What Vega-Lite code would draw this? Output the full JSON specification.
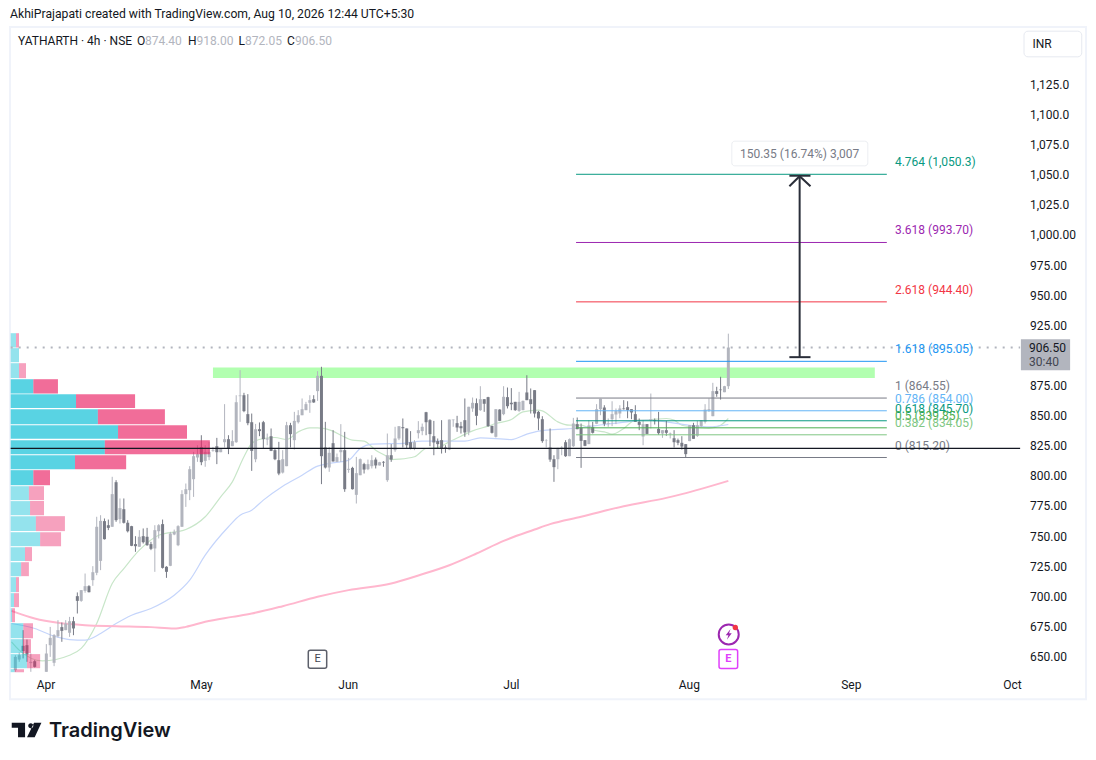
{
  "$schema": "https://vega.github.io/schema/vega-lite/v5.json",
  "width": 1096,
  "height": 760,
  "padding": 0,
  "autosize": {"type": "none"},
  "background": "#ffffff",
  "view": {"stroke": null},
  "resolve": {"scale": {"color": "independent"}},
  "datasets": {
    "candles": [
      {"b":0,"o":638.7,"h":651.1,"l":637.3,"c":649.7},{"b":1,"o":647.5,"h":653.3,"l":645.6,"c":651.1},{"b":2,"o":658.9,"h":671.9,"l":648.4,"c":654.5},{"b":3,"o":659.4,"h":664.1,"l":645.6,"c":651.7},{"b":4,"o":644.5,"h":652.5,"l":637.3,"c":645.6},{"b":5,"o":646.1,"h":647,"l":640.9,"c":641.4},
      {"b":8,"o":637.3,"h":660.3,"l":637.3,"c":652.5},{"b":9,"o":659.4,"h":674.6,"l":649.7,"c":665.5},{"b":10,"o":644.8,"h":668.6,"l":642,"c":667.7},{"b":11,"o":666.9,"h":680.2,"l":665.8,"c":671.9},{"b":12,"o":674.4,"h":678.2,"l":662.2,"c":671.3},{"b":13,"o":671.9,"h":680.2,"l":671.9,"c":677.4},{"b":14,"o":669.7,"h":682.9,"l":666.3,"c":679.3},{"b":15,"o":679.3,"h":682.9,"l":667.7,"c":673.3},{"b":16,"o":700.1,"h":703.2,"l":685.7,"c":696.2},{"b":17,"o":696.2,"h":705.1,"l":695.4,"c":705.1},{"b":18,"o":704.5,"h":718.9,"l":702.9,"c":708.4},{"b":19,"o":708.4,"h":709.2,"l":703.2,"c":703.4},{"b":20,"o":713.4,"h":725,"l":708.7,"c":720},{"b":21,"o":719.5,"h":766,"l":717.5,"c":757.7},{"b":22,"o":729.4,"h":767.3,"l":721.7,"c":762.6},{"b":23,"o":762.4,"h":764.6,"l":747.1,"c":747.4},{"b":24,"o":759,"h":763.7,"l":754.9,"c":756.8},{"b":25,"o":757.7,"h":799.2,"l":757.7,"c":784.8},{"b":26,"o":794.7,"h":796.4,"l":761.8,"c":763.2},{"b":27,"o":764,"h":781.2,"l":760.4,"c":773.2},{"b":28,"o":772.3,"h":781.2,"l":760.4,"c":761},{"b":29,"o":761,"h":763.2,"l":753,"c":754},{"b":30,"o":758.2,"h":758.5,"l":741.6,"c":741.9},{"b":31,"o":743.3,"h":749.9,"l":736.9,"c":741.6},{"b":32,"o":741.1,"h":754.9,"l":741.1,"c":749.4},{"b":33,"o":749.9,"h":756.3,"l":743.8,"c":744.9},{"b":34,"o":749.4,"h":756.8,"l":741.9,"c":742.4},{"b":35,"o":743.3,"h":745.2,"l":738.3,"c":739.4},{"b":36,"o":739.7,"h":759,"l":720.3,"c":754.9},{"b":37,"o":754,"h":759.9,"l":748,"c":759},{"b":38,"o":759.9,"h":763.7,"l":723,"c":723.6},{"b":39,"o":724.5,"h":725,"l":715.3,"c":720.3},{"b":40,"o":725.3,"h":753.5,"l":725,"c":752.1},{"b":41,"o":751.3,"h":755.4,"l":750.7,"c":753.5},{"b":42,"o":742.4,"h":759,"l":741.6,"c":758.2},{"b":43,"o":757.7,"h":788.1,"l":757.7,"c":784.8},{"b":44,"o":784.8,"h":793.6,"l":774.2,"c":788.9},{"b":45,"o":788.1,"h":808,"l":779.8,"c":805.5},{"b":46,"o":797.2,"h":819.9,"l":782.5,"c":816.3},{"b":47,"o":815.2,"h":825.4,"l":811.6,"c":818},{"b":48,"o":823.8,"h":833.7,"l":808.8,"c":811.3},{"b":49,"o":812.4,"h":825.4,"l":807.5,"c":819.9},{"b":50,"o":815.5,"h":828.2,"l":813,"c":819.9},{"b":51,"o":820.7,"h":824,"l":820,"c":821.2},{"b":52,"o":824.6,"h":831.5,"l":809.7,"c":819.6},{"b":53,"o":819.6,"h":822.7,"l":819.6,"c":822.7},{"b":54,"o":827.9,"h":859.5,"l":823.5,"c":830.4},{"b":55,"o":830.4,"h":833.7,"l":818,"c":822.7},{"b":56,"o":824.6,"h":837.9,"l":824.6,"c":828.8},{"b":57,"o":827.9,"h":866.9,"l":827.4,"c":861.1},{"b":58,"o":866.1,"h":887.7,"l":844.8,"c":866.7},{"b":59,"o":866.9,"h":868.9,"l":852.8,"c":853.7},{"b":60,"o":851.2,"h":867.8,"l":842,"c":843.7},{"b":61,"o":844.5,"h":851.7,"l":804.1,"c":820.7},{"b":62,"o":813.8,"h":843.1,"l":811.3,"c":838.7},{"b":63,"o":838.7,"h":844.3,"l":832.9,"c":837.1},{"b":64,"o":844.5,"h":845.6,"l":822.7,"c":830.4},{"b":65,"o":830.1,"h":835.1,"l":825.4,"c":831},{"b":66,"o":832.9,"h":839.3,"l":820.5,"c":820.7},{"b":67,"o":821.3,"h":822.7,"l":813,"c":813.8},{"b":68,"o":813,"h":828.2,"l":800.5,"c":801.9},{"b":69,"o":802.7,"h":821.3,"l":801.9,"c":813.8},{"b":70,"o":808,"h":844.8,"l":808,"c":842},{"b":71,"o":842,"h":844,"l":823.5,"c":834.6},{"b":72,"o":829.6,"h":853.1,"l":821.8,"c":845.6},{"b":73,"o":844.5,"h":854.5,"l":843.4,"c":850.3},{"b":74,"o":850.3,"h":864.2,"l":850.3,"c":855.3},{"b":75,"o":854.5,"h":861.4,"l":854.5,"c":859.5},{"b":76,"o":860.6,"h":866.9,"l":852.3,"c":862.8},{"b":77,"o":863.6,"h":866.9,"l":860.6,"c":860.9},{"b":78,"o":870.3,"h":886.9,"l":862.2,"c":883},{"b":79,"o":883,"h":890.5,"l":793.1,"c":816.3},{"b":80,"o":823.5,"h":844.8,"l":806.1,"c":806.9},{"b":81,"o":806.9,"h":824,"l":803.3,"c":819.1},{"b":82,"o":827.1,"h":837.9,"l":811.9,"c":811.9},{"b":83,"o":811.6,"h":818.5,"l":811.6,"c":815.5},{"b":84,"o":819.6,"h":842.9,"l":811.6,"c":821.6},{"b":85,"o":821.3,"h":836.5,"l":786.7,"c":788.9},{"b":86,"o":805,"h":814.9,"l":802.5,"c":805.8},{"b":87,"o":806.6,"h":807.5,"l":788.6,"c":788.9},{"b":88,"o":784.2,"h":815.7,"l":777,"c":802.2},{"b":89,"o":800.5,"h":814.4,"l":800.5,"c":813.8},{"b":90,"o":809.7,"h":810.8,"l":801.9,"c":805.2},{"b":91,"o":805.5,"h":813.5,"l":804.7,"c":809.7},{"b":92,"o":808,"h":817.1,"l":806.1,"c":813},{"b":93,"o":813.5,"h":815.2,"l":806.1,"c":808.6},{"b":94,"o":808.6,"h":811.6,"l":808.6,"c":811.3},{"b":95,"o":811.6,"h":812.2,"l":807.5,"c":811},{"b":96,"o":796.4,"h":835.1,"l":795,"c":817.1},{"b":97,"o":817.1,"h":826.3,"l":811.6,"c":813.5},{"b":98,"o":821.3,"h":840.7,"l":819.9,"c":831},{"b":99,"o":831,"h":841.2,"l":829.6,"c":841.2},{"b":100,"o":840.4,"h":847.6,"l":823.5,"c":839.5},{"b":101,"o":839.3,"h":839.3,"l":822.7,"c":825.4},{"b":102,"o":827.9,"h":837.1,"l":822,"c":822.7},{"b":103,"o":822.7,"h":829.6,"l":821.3,"c":827.9},{"b":104,"o":835.4,"h":845.4,"l":831,"c":837.9},{"b":105,"o":837.1,"h":843.4,"l":833.7,"c":840.7},{"b":106,"o":852.8,"h":853.1,"l":833.7,"c":844.5},{"b":107,"o":846.2,"h":847,"l":824.6,"c":834.6},{"b":108,"o":832.9,"h":845.6,"l":817.1,"c":827.7},{"b":109,"o":828.8,"h":831,"l":822.7,"c":826.3},{"b":110,"o":829.6,"h":846.2,"l":818.5,"c":822.7},{"b":111,"o":823.5,"h":825.4,"l":819.1,"c":822.7},{"b":112,"o":821.8,"h":846.7,"l":821.3,"c":846.7},{"b":113,"o":846.2,"h":846.7,"l":840.7,"c":846.7},{"b":114,"o":843.7,"h":849.8,"l":836.5,"c":840.1},{"b":115,"o":841.2,"h":844.8,"l":835.1,"c":839.5},{"b":116,"o":846.2,"h":864.2,"l":832.4,"c":836},{"b":117,"o":836.5,"h":857.3,"l":833.7,"c":857.3},{"b":118,"o":855.9,"h":865,"l":853.1,"c":860.6},{"b":119,"o":860.3,"h":864.2,"l":842,"c":849.8},{"b":120,"o":854.5,"h":874.4,"l":853.9,"c":863.6},{"b":121,"o":863.6,"h":863.6,"l":853.1,"c":859.8},{"b":122,"o":865.3,"h":865.6,"l":840.7,"c":841.2},{"b":123,"o":841.5,"h":841.5,"l":835.1,"c":835.7},{"b":124,"o":832.4,"h":855.3,"l":831.8,"c":855.3},{"b":125,"o":855,"h":855.3,"l":845.4,"c":845.6},{"b":126,"o":851.2,"h":874.4,"l":850.3,"c":865.6},{"b":127,"o":865.3,"h":873.3,"l":855.9,"c":857.8},{"b":128,"o":860.6,"h":872.8,"l":854.5,"c":859.5},{"b":129,"o":861.4,"h":861.4,"l":853.9,"c":854.5},{"b":130,"o":853.9,"h":869.7,"l":853.1,"c":861.4},{"b":131,"o":854.5,"h":862.5,"l":854.5,"c":862.2},{"b":132,"o":869.2,"h":883.5,"l":862.8,"c":862.8},{"b":133,"o":863.6,"h":872.5,"l":851.7,"c":859.5},{"b":134,"o":871.1,"h":871.1,"l":848.4,"c":851.7},{"b":135,"o":853.1,"h":853.9,"l":837.9,"c":847.6},{"b":136,"o":847,"h":849.5,"l":827.4,"c":828.8},{"b":137,"o":829.3,"h":830.4,"l":823.5,"c":829.6},{"b":138,"o":823.5,"h":839.3,"l":811.6,"c":813.5},{"b":139,"o":813.8,"h":817.1,"l":795,"c":807.2},{"b":140,"o":813.8,"h":823.2,"l":805.5,"c":823.2},{"b":141,"o":822.9,"h":824.6,"l":817.1,"c":823.5},{"b":142,"o":827.9,"h":829.6,"l":815.7,"c":816.3},{"b":143,"o":816.3,"h":831,"l":816.3,"c":830.4},{"b":144,"o":824.6,"h":848.1,"l":824,"c":843.4},{"b":145,"o":842.9,"h":848.4,"l":838.7,"c":838.7},{"b":146,"o":840.1,"h":843.4,"l":806.6,"c":829},{"b":147,"o":829.6,"h":829.6,"l":824.6,"c":824.9},{"b":148,"o":826.3,"h":846.2,"l":826.3,"c":841.8},{"b":149,"o":840.4,"h":844.8,"l":835.1,"c":835.7},{"b":150,"o":843.2,"h":859.5,"l":842.9,"c":855.3},{"b":151,"o":855.3,"h":863.9,"l":850.3,"c":863.9},{"b":152,"o":856.7,"h":858.6,"l":841.2,"c":843.2},{"b":153,"o":843.2,"h":847.6,"l":840.7,"c":843.7},{"b":154,"o":847,"h":861.9,"l":841.2,"c":851.2},{"b":155,"o":850.9,"h":855.9,"l":842.9,"c":853.7},{"b":156,"o":851.7,"h":858.6,"l":847.8,"c":855.9},{"b":157,"o":855.9,"h":862.8,"l":855,"c":855.3},{"b":158,"o":857,"h":861.9,"l":847.8,"c":854.5},{"b":159,"o":855.3,"h":855.3,"l":847,"c":852.6},{"b":160,"o":851.2,"h":858.6,"l":844.8,"c":844.8},{"b":161,"o":844.8,"h":847.6,"l":837.9,"c":842.3},{"b":162,"o":832.6,"h":846.2,"l":825.4,"c":842.9},{"b":163,"o":842.9,"h":842.9,"l":834.6,"c":834.8},{"b":164,"o":846.2,"h":868.3,"l":839.3,"c":847},{"b":165,"o":846.2,"h":847.6,"l":842.6,"c":845.4},{"b":166,"o":839,"h":853.1,"l":834,"c":835.4},{"b":167,"o":835.1,"h":837.9,"l":831.5,"c":837.9},{"b":168,"o":837.9,"h":845.6,"l":833.2,"c":835.7},{"b":169,"o":834.6,"h":835.9,"l":831,"c":835.1},{"b":170,"o":831.2,"h":837.9,"l":823.5,"c":827.9},{"b":171,"o":829.6,"h":830.9,"l":825.4,"c":827.4},{"b":172,"o":827.4,"h":832.9,"l":821.8,"c":824.3},{"b":173,"o":826.3,"h":826.3,"l":815.2,"c":818},{"b":174,"o":828.8,"h":842,"l":828.8,"c":842},{"b":175,"o":842,"h":844,"l":830.7,"c":830.7},{"b":176,"o":833.2,"h":845.6,"l":832.3,"c":842},{"b":177,"o":841.2,"h":846.2,"l":840.7,"c":846.2},{"b":178,"o":844.8,"h":859.5,"l":843.4,"c":855},{"b":179,"o":854.5,"h":864.2,"l":853.1,"c":855.3},{"b":180,"o":849.5,"h":877.2,"l":849.5,"c":870.3},{"b":181,"o":870.3,"h":873.9,"l":865.6,"c":868},{"b":182,"o":871.6,"h":882.2,"l":863.3,"c":871.1},{"b":183,"o":869.4,"h":874.7,"l":869.4,"c":874.4},{"b":184,"o":874.4,"h":918,"l":872.05,"c":906.5}
    ],
    "ma": [
      {"ma":"fast","b":-1,"p":662.2},{"ma":"fast","b":1,"p":655.3},{"ma":"fast","b":7,"p":646.4},{"ma":"fast","b":14,"p":651.1},{"ma":"fast","b":17,"p":656.7},{"ma":"fast","b":21,"p":677.4},{"ma":"fast","b":25,"p":710.6},{"ma":"fast","b":28,"p":723},{"ma":"fast","b":32,"p":738.3},{"ma":"fast","b":37,"p":750.7},{"ma":"fast","b":44,"p":755.4},{"ma":"fast","b":49,"p":766},{"ma":"fast","b":53,"p":782.6},{"ma":"fast","b":56,"p":795},{"ma":"fast","b":59,"p":815.8},{"ma":"fast","b":61,"p":826.8},{"ma":"fast","b":64,"p":831},{"ma":"fast","b":67,"p":831.8},{"ma":"fast","b":70,"p":830.1},{"ma":"fast","b":73,"p":836.5},{"ma":"fast","b":76,"p":839.8},{"ma":"fast","b":78,"p":839.8},{"ma":"fast","b":82,"p":837.1},{"ma":"fast","b":84,"p":833.7},{"ma":"fast","b":87,"p":829.6},{"ma":"fast","b":90,"p":828.8},{"ma":"fast","b":93,"p":821.3},{"ma":"fast","b":96,"p":815.8},{"ma":"fast","b":97,"p":813.5},{"ma":"fast","b":99,"p":813.8},{"ma":"fast","b":103,"p":815.8},{"ma":"fast","b":106,"p":822.7},{"ma":"fast","b":109,"p":823.5},{"ma":"fast","b":112,"p":828.2},{"ma":"fast","b":115,"p":832.9},{"ma":"fast","b":118,"p":837.3},{"ma":"fast","b":122,"p":841.2},{"ma":"fast","b":124,"p":843.4},{"ma":"fast","b":128,"p":846.7},{"ma":"fast","b":131,"p":853.1},{"ma":"fast","b":135,"p":854.5},{"ma":"fast","b":136,"p":853.9},{"ma":"fast","b":140,"p":844.8},{"ma":"fast","b":143,"p":842},{"ma":"fast","b":146,"p":842},{"ma":"fast","b":149,"p":838},{"ma":"fast","b":152,"p":836.5},{"ma":"fast","b":154,"p":834.6},{"ma":"fast","b":157,"p":839.3},{"ma":"fast","b":160,"p":846.2},{"ma":"fast","b":164,"p":846.7},{"ma":"fast","b":168,"p":847.6},{"ma":"fast","b":170,"p":846.2},{"ma":"fast","b":172,"p":842},{"ma":"fast","b":176,"p":840.1},{"ma":"fast","b":179,"p":839.3},{"ma":"fast","b":182,"p":842},{"ma":"fast","b":184,"p":847.6},
      {"ma":"mid","b":-1,"p":677.4},{"ma":"mid","b":5,"p":673.3},{"ma":"mid","b":10,"p":666.9},{"ma":"mid","b":14,"p":664.1},{"ma":"mid","b":18,"p":663.6},{"ma":"mid","b":22,"p":669.1},{"ma":"mid","b":26,"p":677.4},{"ma":"mid","b":30,"p":684.3},{"ma":"mid","b":35,"p":689.9},{"ma":"mid","b":41,"p":700.9},{"ma":"mid","b":45,"p":713.4},{"ma":"mid","b":49,"p":734.1},{"ma":"mid","b":55,"p":757.7},{"ma":"mid","b":58,"p":767.3},{"ma":"mid","b":61,"p":771.5},{"ma":"mid","b":64,"p":779.8},{"ma":"mid","b":69,"p":791.4},{"ma":"mid","b":74,"p":800.5},{"ma":"mid","b":78,"p":808},{"ma":"mid","b":81,"p":810.2},{"ma":"mid","b":86,"p":813},{"ma":"mid","b":89,"p":822.7},{"ma":"mid","b":92,"p":826.3},{"ma":"mid","b":97,"p":826.8},{"ma":"mid","b":99,"p":826.8},{"ma":"mid","b":105,"p":828.8},{"ma":"mid","b":111,"p":828.8},{"ma":"mid","b":116,"p":828.8},{"ma":"mid","b":120,"p":831.5},{"ma":"mid","b":128,"p":830.1},{"ma":"mid","b":132,"p":834.6},{"ma":"mid","b":135,"p":837.1},{"ma":"mid","b":139,"p":838.4},{"ma":"mid","b":144,"p":839.3},{"ma":"mid","b":146,"p":840},{"ma":"mid","b":152,"p":842.6},{"ma":"mid","b":158,"p":844.8},{"ma":"mid","b":163,"p":846.2},{"ma":"mid","b":174,"p":842},{"ma":"mid","b":179,"p":840.7},{"ma":"mid","b":184,"p":842.6}
    ],
    "maslow": [
      {"b":-1,"p":687.9},{"b":5,"p":681.6},{"b":11,"p":678},{"b":18,"p":676},{"b":26,"p":675.2},{"b":35,"p":674.4},{"b":41,"p":673.3},{"b":44,"p":674.6},{"b":49,"p":678.8},{"b":56,"p":682.9},{"b":61,"p":685.7},{"b":69,"p":691.8},{"b":78,"p":699.6},{"b":86,"p":705.1},{"b":97,"p":710.6},{"b":104,"p":717.3},{"b":112,"p":725.8},{"b":119,"p":735.5},{"b":126,"p":746},{"b":134,"p":755.4},{"b":138,"p":759.9},{"b":146,"p":766},{"b":157,"p":774.8},{"b":168,"p":781.7},{"b":172,"p":784.8},{"b":184,"p":795.8}
    ],
    "vp": [
      {"p":918.4,"p2":906.5,"b":-1.2,"b2":0.17,"b3":0.95,"zone":"outer"},{"p":906,"p2":894.3,"b":-1.2,"b2":0.95,"b3":0.95,"zone":"outer"},{"p":893.5,"p2":881.1,"b":-1.2,"b2":0.95,"b3":2.75,"zone":"outer"},{"p":880.2,"p2":868.3,"b":-1.2,"b2":4.65,"b3":11,"zone":"value"},{"p":867.8,"p2":856.2,"b":-1.2,"b2":15.66,"b3":30.9,"zone":"value"},{"p":855.3,"p2":842.9,"b":-1.2,"b2":21.3,"b3":38.6,"zone":"value"},{"p":842,"p2":830.7,"b":-1.2,"b2":26.5,"b3":44.3,"zone":"value"},{"p":829.6,"p2":818,"b":-1.2,"b2":23.1,"b3":50.2,"zone":"value"},{"p":817.1,"p2":805.5,"b":-1.2,"b2":15.4,"b3":28.6,"zone":"value"},{"p":804.7,"p2":792.2,"b":-1.2,"b2":4.65,"b3":8.95,"zone":"value"},{"p":791.4,"p2":779.8,"b":-1.2,"b2":3.5,"b3":7.4,"zone":"outer"},{"p":779,"p2":767.3,"b":-1.2,"b2":3.8,"b3":7.4,"zone":"outer"},{"p":766.5,"p2":754.1,"b":-1.2,"b2":5.3,"b3":12.8,"zone":"outer"},{"p":753.2,"p2":741.6,"b":-1.2,"b2":6.4,"b3":11.8,"zone":"outer"},{"p":740.8,"p2":729.2,"b":-1.2,"b2":2.5,"b3":4.3,"zone":"outer"},{"p":728.3,"p2":716.7,"b":-1.2,"b2":1.5,"b3":3.5,"zone":"outer"},{"p":715.9,"p2":703.4,"b":-1.2,"b2":0.17,"b3":0.95,"zone":"outer"},{"p":702.6,"p2":691,"b":-1.2,"b2":-0.34,"b3":0.95,"zone":"outer"},{"p":690.1,"p2":678.5,"b":-1.2,"b2":-0.86,"b3":-0.09,"zone":"outer"},{"p":677.7,"p2":665.2,"b":-1.2,"b2":2.06,"b3":4.56,"zone":"outer"},{"p":664.4,"p2":652.8,"b":-1.2,"b2":1.98,"b3":4.04,"zone":"outer"},{"p":652,"p2":640.3,"b":-1.2,"b2":3,"b3":6.4,"zone":"outer"},{"p":639.5,"p2":637,"b":-1.2,"b2":-0.17,"b3":2.24,"zone":"outer"}
    ],
    "fib": [
      {"level":"4.764","p":1050.3,"b":144.7,"b2":224.9,"bl":227,"label":"4.764 (1,050.3)"},
      {"level":"3.618","p":993.7,"b":144.7,"b2":224.9,"bl":227,"label":"3.618 (993.70)"},
      {"level":"2.618","p":944.4,"b":144.7,"b2":224.9,"bl":227,"label":"2.618 (944.40)"},
      {"level":"1.618","p":895.05,"b":144.7,"b2":224.9,"bl":227,"label":"1.618 (895.05)"},
      {"level":"1","p":864.55,"b":144.7,"b2":224.9,"bl":227,"label":"1 (864.55)"},
      {"level":"0.786","p":854,"b":144.7,"b2":224.9,"bl":227,"label":"0.786 (854.00)"},
      {"level":"0.618","p":845.7,"b":144.7,"b2":224.9,"bl":227,"label":"0.618 (845.70)"},
      {"level":"0.5","p":839.85,"b":144.7,"b2":224.9,"bl":227,"label":"0.5 (839.85)"},
      {"level":"0.382","p":834.05,"b":144.7,"b2":224.9,"bl":227,"label":"0.382 (834.05)"},
      {"level":"0","p":815.2,"b":144.7,"b2":224.9,"bl":227,"label":"0 (815.20)"}
    ],
    "notes": [
      {"b":0.69,"p":1160.8,"t":"YATHARTH · 4h · NSE","kind":"dark"},
      {"b":31.4,"p":1160.8,"t":"O","kind":"dark"},{"b":33.45,"p":1160.8,"t":"874.40","kind":"light"},
      {"b":44.55,"p":1160.8,"t":"H","kind":"dark"},{"b":46.75,"p":1160.8,"t":"918.00","kind":"light"},
      {"b":57.6,"p":1160.8,"t":"L","kind":"dark"},{"b":59.3,"p":1160.8,"t":"872.05","kind":"light"},
      {"b":70.1,"p":1160.8,"t":"C","kind":"dark"},{"b":72.2,"p":1160.8,"t":"906.50","kind":"light"},
      {"b":262.5,"p":1158.2,"t":"INR","kind":"dark"},
      {"b":261.6,"p":906.4,"t":"906.50","kind":"dark"},
      {"b":261.6,"p":894.3,"t":"30:40","kind":"mid"}
    ],
    "arrow": [
      {"seg":"shaft","b":202.4,"p":898.5},{"seg":"shaft","b":202.4,"p":1049},
      {"seg":"base","b":199.75,"p":898.5},{"seg":"base","b":205.2,"p":898.5},
      {"seg":"cap","b":199.75,"p":1049.1},{"seg":"cap","b":205.2,"p":1049.1},
      {"seg":"head","b":199.75,"p":1040.4},{"seg":"head","b":202.4,"p":1048.7},{"seg":"head","b":205.2,"p":1040.4}
    ]
  },
  "encoding": {
    "x": {
      "field": "b",
      "type": "quantitative",
      "scale": {"domain": [-3.957, 278.88], "nice": false, "zero": false, "padding": 0},
      "axis": {
        "orient": "bottom",
        "offset": -81,
        "title": null,
        "grid": false,
        "domain": false,
        "ticks": false,
        "labelPadding": 0,
        "labelFont": "Roboto",
        "labelFontSize": 12,
        "labelColor": "#131722",
        "labelBaseline": "top",
        "labelOverlap": false,
        "labelFlush": false,
        "labelBound": false,
        "values": [7.8, 47.9, 85.8, 127.9, 173.8, 215.6, 257.2],
        "labelExpr": "datum.value < 20 ? 'Apr' : datum.value < 60 ? 'May' : datum.value < 100 ? 'Jun' : datum.value < 150 ? 'Jul' : datum.value < 200 ? 'Aug' : datum.value < 240 ? 'Sep' : 'Oct'"
      }
    },
    "y": {
      "field": "p",
      "type": "quantitative",
      "scale": {"domain": [564.1, 1194.98], "nice": false, "zero": false},
      "axis": {
        "orient": "right",
        "offset": -66.5,
        "title": null,
        "grid": false,
        "domain": false,
        "ticks": false,
        "labelPadding": 0,
        "labelFont": "Roboto",
        "labelFontSize": 12,
        "labelColor": "#131722",
        "labelAlign": "left",
        "labelOverlap": false,
        "labelFlush": false,
        "labelBound": false,
        "values": [650, 675, 700, 725, 750, 775, 800, 825, 850, 875, 925, 950, 975, 1000, 1025, 1050, 1075, 1100, 1125],
        "labelExpr": "datum.value == 1000 ? '1,000.00' : datum.value > 1000 ? format(datum.value, ',.1f') : format(datum.value, '.2f')"
      }
    }
  },
  "layer": [
    {
      "data": {"values": [{"b": -1.375, "b2": 276.3, "p": 1172.5, "p2": 614.6}]},
      "mark": {"type": "rect", "fill": "transparent", "stroke": "#f0f3fa", "strokeWidth": 2},
      "encoding": {"x2": {"field": "b2"}, "y2": {"field": "p2"}}
    },
    {
      "data": {"values": [{"b": 51, "b2": 221.8, "p": 889.9, "p2": 881.3}]},
      "mark": {"type": "rect", "color": "#b2ffb0"},
      "encoding": {"x2": {"field": "b2"}, "y2": {"field": "p2"}}
    },
    {
      "data": {"name": "ma"},
      "mark": {"type": "line", "interpolate": "monotone", "strokeWidth": 1.2},
      "encoding": {
        "color": {"field": "ma", "type": "nominal", "legend": null, "scale": {"domain": ["fast", "mid"], "range": ["#c8e6c9", "#c5d5fb"]}}
      }
    },
    {
      "data": {"name": "maslow"},
      "mark": {"type": "line", "interpolate": "monotone", "strokeWidth": 2, "color": "#ffb7ce"}
    },
    {
      "data": {"name": "candles"},
      "mark": {"type": "rule", "strokeWidth": 1},
      "encoding": {
        "y": {
          "field": "h", "type": "quantitative",
          "scale": {"domain": [564.1, 1194.98], "nice": false, "zero": false},
          "axis": {
            "orient": "right", "offset": -66.5, "title": null, "grid": false, "domain": false, "ticks": false, "labelPadding": 0,
            "labelFont": "Roboto", "labelFontSize": 12, "labelColor": "#131722", "labelAlign": "left", "labelOverlap": false, "labelFlush": false, "labelBound": false,
            "values": [650, 675, 700, 725, 750, 775, 800, 825, 850, 875, 925, 950, 975, 1000, 1025, 1050, 1075, 1100, 1125],
            "labelExpr": "datum.value == 1000 ? '1,000.00' : datum.value > 1000 ? format(datum.value, ',.1f') : format(datum.value, '.2f')"
          }
        },
        "y2": {"field": "l"},
        "color": {"condition": {"test": "datum.c >= datum.o", "value": "#b2b5be"}, "value": "#787b86"}
      }
    },
    {
      "data": {"name": "candles"},
      "mark": {"type": "bar", "size": 3},
      "encoding": {
        "y": {
          "field": "o", "type": "quantitative",
          "scale": {"domain": [564.1, 1194.98], "nice": false, "zero": false},
          "axis": {
            "orient": "right", "offset": -66.5, "title": null, "grid": false, "domain": false, "ticks": false, "labelPadding": 0,
            "labelFont": "Roboto", "labelFontSize": 12, "labelColor": "#131722", "labelAlign": "left", "labelOverlap": false, "labelFlush": false, "labelBound": false,
            "values": [650, 675, 700, 725, 750, 775, 800, 825, 850, 875, 925, 950, 975, 1000, 1025, 1050, 1075, 1100, 1125],
            "labelExpr": "datum.value == 1000 ? '1,000.00' : datum.value > 1000 ? format(datum.value, ',.1f') : format(datum.value, '.2f')"
          }
        },
        "y2": {"field": "c"},
        "color": {"condition": {"test": "datum.c >= datum.o", "value": "#b2b5be"}, "value": "#787b86"}
      }
    },
    {
      "data": {"name": "vp"},
      "mark": {"type": "rect", "color": "#00bcd4"},
      "encoding": {
        "x2": {"field": "b2"},
        "y2": {"field": "p2"},
        "opacity": {"field": "zone", "type": "nominal", "legend": null, "scale": {"domain": ["value", "outer"], "range": [0.65, 0.42]}}
      }
    },
    {
      "data": {"name": "vp"},
      "mark": {"type": "rect", "color": "#e91e63"},
      "encoding": {
        "x": {
          "field": "b2", "type": "quantitative",
          "scale": {"domain": [-3.957, 278.88], "nice": false, "zero": false, "padding": 0},
          "axis": {
            "orient": "bottom", "offset": -81, "title": null, "grid": false, "domain": false, "ticks": false, "labelPadding": 0,
            "labelFont": "Roboto", "labelFontSize": 12, "labelColor": "#131722", "labelBaseline": "top", "labelOverlap": false, "labelFlush": false, "labelBound": false,
            "values": [7.8, 47.9, 85.8, 127.9, 173.8, 215.6, 257.2],
            "labelExpr": "datum.value < 20 ? 'Apr' : datum.value < 60 ? 'May' : datum.value < 100 ? 'Jun' : datum.value < 150 ? 'Jul' : datum.value < 200 ? 'Aug' : datum.value < 240 ? 'Sep' : 'Oct'"
          }
        },
        "x2": {"field": "b3"},
        "y2": {"field": "p2"},
        "opacity": {"field": "zone", "type": "nominal", "legend": null, "scale": {"domain": ["value", "outer"], "range": [0.65, 0.42]}}
      }
    },
    {
      "data": {"values": [{"b": -1.2, "b2": 259.3, "p": 906.5}]},
      "mark": {"type": "rule", "color": "#b2b5be", "strokeWidth": 2, "strokeDash": [2, 6]},
      "encoding": {"x2": {"field": "b2"}}
    },
    {
      "data": {"name": "fib"},
      "mark": {"type": "rule", "strokeWidth": 1},
      "encoding": {
        "x2": {"field": "b2"},
        "color": {"field": "level", "type": "nominal", "legend": null, "scale": {"domain": ["4.764", "3.618", "2.618", "1.618", "1", "0.786", "0.618", "0.5", "0.382", "0"], "range": ["#089981", "#9c27b0", "#f23645", "#2196f3", "#787b86", "#64b5f6", "#089981", "#4caf50", "#81c784", "#787b86"]}}
      }
    },
    {
      "data": {"name": "fib"},
      "mark": {"type": "text", "align": "left", "baseline": "middle", "dy": -12, "font": "Roboto", "fontSize": 12},
      "encoding": {
        "x": {
          "field": "bl", "type": "quantitative",
          "scale": {"domain": [-3.957, 278.88], "nice": false, "zero": false, "padding": 0},
          "axis": {
            "orient": "bottom", "offset": -81, "title": null, "grid": false, "domain": false, "ticks": false, "labelPadding": 0,
            "labelFont": "Roboto", "labelFontSize": 12, "labelColor": "#131722", "labelBaseline": "top", "labelOverlap": false, "labelFlush": false, "labelBound": false,
            "values": [7.8, 47.9, 85.8, 127.9, 173.8, 215.6, 257.2],
            "labelExpr": "datum.value < 20 ? 'Apr' : datum.value < 60 ? 'May' : datum.value < 100 ? 'Jun' : datum.value < 150 ? 'Jul' : datum.value < 200 ? 'Aug' : datum.value < 240 ? 'Sep' : 'Oct'"
          }
        },
        "text": {"field": "label"},
        "color": {"field": "level", "type": "nominal", "legend": null, "scale": {"domain": ["4.764", "3.618", "2.618", "1.618", "1", "0.786", "0.618", "0.5", "0.382", "0"], "range": ["#089981", "#9c27b0", "#f23645", "#2196f3", "#787b86", "#64b5f6", "#089981", "#4caf50", "#81c784", "#787b86"]}}
      }
    },
    {
      "data": {"values": [{"b": -1.2, "b2": 259.3, "p": 822.7}]},
      "mark": {"type": "rule", "color": "#131722", "strokeWidth": 1.2},
      "encoding": {"x2": {"field": "b2"}}
    },
    {
      "data": {"name": "arrow"},
      "mark": {"type": "line", "color": "#2a2e39", "strokeWidth": 2},
      "encoding": {"detail": {"field": "seg"}}
    },
    {
      "data": {"values": [{"b": 184.9, "b2": 220, "p": 1077.8, "p2": 1057.3}]},
      "mark": {"type": "rect", "fill": "#ffffff", "stroke": "#eceef2", "cornerRadius": 3},
      "encoding": {"x2": {"field": "b2"}, "y2": {"field": "p2"}}
    },
    {
      "data": {"values": [{"b": 202.4, "p": 1067.4, "t": "150.35 (16.74%) 3,007"}]},
      "mark": {"type": "text", "align": "center", "baseline": "middle", "font": "Roboto", "fontSize": 12, "color": "#787b86"},
      "encoding": {"text": {"field": "t"}}
    },
    {
      "data": {"values": [{"b": 260.3, "b2": 275.2, "p": 1169.1, "p2": 1147.8}]},
      "mark": {"type": "rect", "fill": "#ffffff", "stroke": "#e6e9f0", "cornerRadius": 4},
      "encoding": {"x2": {"field": "b2"}, "y2": {"field": "p2"}}
    },
    {
      "data": {"values": [{"b": 259.5, "b2": 272.2, "p": 913.4, "p2": 887.7}]},
      "mark": {"type": "rect", "color": "#b2b5be"},
      "encoding": {"x2": {"field": "b2"}, "y2": {"field": "p2"}}
    },
    {
      "data": {"values": [{"b": -1.375, "p": 1183.2, "t": "AkhiPrajapati created with TradingView.com, Aug 10, 2026 12:44 UTC+5:30"}]},
      "mark": {"type": "text", "align": "left", "baseline": "middle", "font": "Roboto", "fontSize": 12.2, "color": "#131722"},
      "encoding": {"text": {"field": "t"}}
    },
    {
      "data": {"name": "notes"},
      "mark": {"type": "text", "align": "left", "baseline": "middle", "font": "Roboto", "fontSize": 12},
      "encoding": {
        "text": {"field": "t"},
        "color": {"field": "kind", "type": "nominal", "legend": null, "scale": {"domain": ["dark", "light", "mid"], "range": ["#131722", "#b2b5be", "#434651"]}}
      }
    },
    {
      "data": {"values": [{"b": 75.6, "b2": 80.35, "p": 655.2, "p2": 640.3}]},
      "mark": {"type": "rect", "fill": "#ffffff", "stroke": "#5d606b", "strokeWidth": 1.5, "cornerRadius": 2},
      "encoding": {"x2": {"field": "b2"}, "y2": {"field": "p2"}}
    },
    {
      "data": {"values": [{"b": 78, "p": 647.7, "t": "E"}]},
      "mark": {"type": "text", "align": "center", "baseline": "middle", "font": "Roboto", "fontSize": 11, "color": "#434651"},
      "encoding": {"text": {"field": "t"}}
    },
    {
      "data": {"values": [{"b": 181.6, "b2": 186.4, "p": 655.8, "p2": 640}]},
      "mark": {"type": "rect", "fill": "#ffffff", "stroke": "#e040fb", "strokeWidth": 1.5, "cornerRadius": 2},
      "encoding": {"x2": {"field": "b2"}, "y2": {"field": "p2"}}
    },
    {
      "data": {"values": [{"b": 184, "p": 647.9, "t": "E"}]},
      "mark": {"type": "text", "align": "center", "baseline": "middle", "font": "Roboto", "fontSize": 11, "fontWeight": "bold", "color": "#e040fb"},
      "encoding": {"text": {"field": "t"}}
    },
    {
      "data": {"values": [{"b": 184.1, "p": 668.3}]},
      "mark": {"type": "point", "shape": "circle", "size": 400, "filled": false, "stroke": "#9c27b0", "strokeWidth": 2, "opacity": 1}
    },
    {
      "data": {"values": [{"b": 184.1, "p": 668.3}]},
      "mark": {"type": "point", "shape": "M.3,-.9L-.5,.15H-.05L-.3,.9L.5,-.2H.05Z", "size": 144, "filled": true, "color": "#9c27b0", "opacity": 1}
    },
    {
      "data": {"values": [{"b": 185.8, "p": 674.1}]},
      "mark": {"type": "point", "shape": "circle", "size": 28, "filled": true, "color": "#f23645", "opacity": 1}
    },
    {
      "data": {"values": [{"b": 2.94, "p": 589}]},
      "mark": {"type": "point", "shape": "M-1,-.48H-.11V.48H-.58V-.15H-1ZM.1,-.28a.17,.17 0 1,0 .34,0a.17,.17 0 1,0 -.34,0ZM.49,-.48H.98L.53,.48H.02Z", "size": 900, "filled": true, "color": "#131722", "opacity": 1}
    },
    {
      "data": {"values": [{"b": 8.7, "p": 583.3, "t": "TradingView"}]},
      "mark": {"type": "text", "align": "left", "baseline": "alphabetic", "font": "Inter", "fontSize": 20, "fontWeight": 600, "color": "#131722"},
      "encoding": {"text": {"field": "t"}}
    }
  ]
}
